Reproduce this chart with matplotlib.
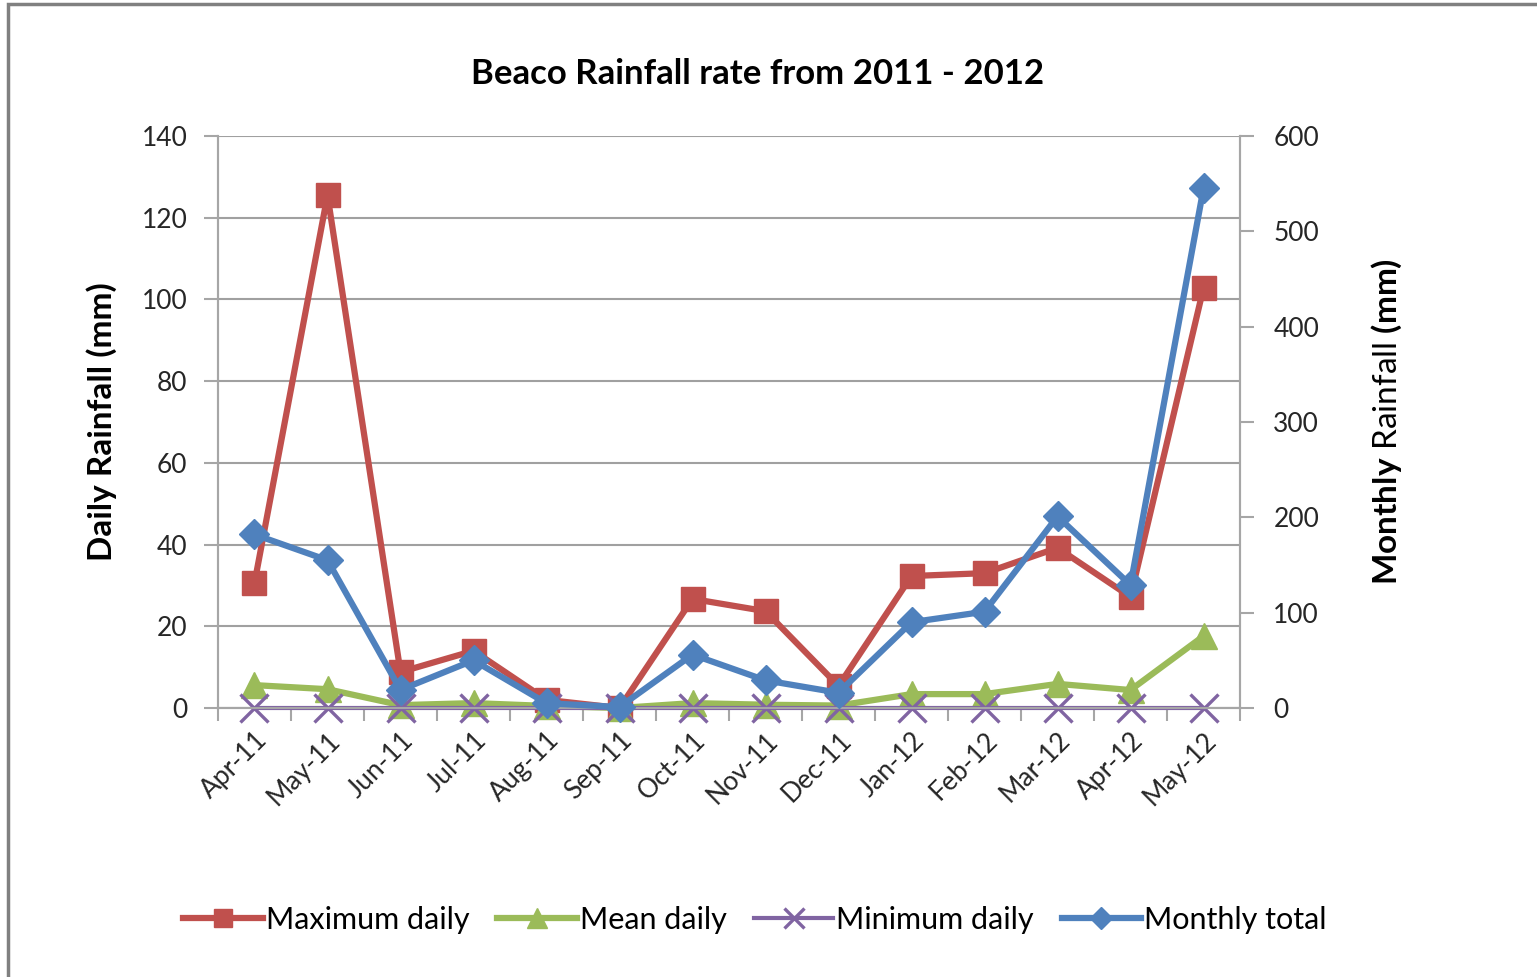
import matplotlib.pyplot as plt
import numpy as np
from matplotlib.patches import Rectangle

MONTHS = ['Apr-11', 'May-11', 'Jun-11', 'Jul-11', 'Aug-11', 'Sep-11', 'Oct-11',
          'Nov-11', 'Dec-11', 'Jan-12', 'Feb-12', 'Mar-12', 'Apr-12', 'May-12']

MAX_DAILY = [30.6, 125.5, 8.8, 14.0, 2.0, 0.0, 26.7, 23.7, 5.4, 32.3, 33.0, 39.2, 27.2, 102.8]
MEAN_DAILY = [5.6, 4.6, 0.7, 1.2, 0.5, 0.0, 1.2, 0.8, 0.6, 3.4, 3.4, 5.9, 4.4, 17.6]
MIN_DAILY = [0, 0, 0, 0, 0, 0, 0, 0, 0, 0, 0, 0, 0, 0]
MONTHLY_TOTAL = [182, 155, 19, 50, 5, 1, 56, 29, 16, 90, 101, 201, 129, 545]

RED = '#C0504D'
GREEN = '#9BBB59'
PURPLE = '#8064A2'
BLUE = '#4F81BD'
AXIS_GREY = '#A6A6A6'
TEXT = '#262626'

plt.rcParams['font.family'] = ['Lato', 'DejaVu Sans']
plt.rcParams['mathtext.fontset'] = 'custom'
plt.rcParams['mathtext.rm'] = 'Lato'
plt.rcParams['mathtext.bf'] = 'Lato:bold'

fig = plt.figure(figsize=(15.37, 9.77), dpi=100)
ax = fig.add_axes([218 / 1537, 1 - 708 / 977, (1240 - 218) / 1537, (708 - 136) / 977])
ax2 = ax.twinx()

x = np.arange(len(MONTHS))

ax.plot(x, MAX_DAILY, color=RED, lw=4.5, marker='s', ms=17, label='Maximum daily',
        clip_on=False, zorder=3)
ax.plot(x, MEAN_DAILY, color=GREEN, lw=4.5, marker='^', ms=19, label='Mean daily',
        clip_on=False, zorder=3)
ax.plot(x, MIN_DAILY, color=PURPLE, lw=3.0, marker='x', ms=20, mew=2.4,
        label='Minimum daily', clip_on=False, zorder=4)
ax2.plot(x, MONTHLY_TOTAL, color=BLUE, lw=4.5, marker='D', ms=15, label='Monthly total',
         clip_on=False, zorder=3)

ax.set_xlim(-0.5, len(MONTHS) - 0.5)
ax.set_ylim(0, 140)
ax.set_yticks(np.arange(0, 141, 20))
ax2.set_ylim(0, 600)
ax2.set_yticks(np.arange(0, 601, 100))

ax.set_xticks(x)
ax.set_xticklabels(MONTHS, rotation=45, ha='right', rotation_mode='anchor',
                   fontsize=19, color=TEXT)
ax.set_xticks(np.arange(-0.5, len(MONTHS), 1), minor=True)
ax.tick_params(axis='x', which='major', length=0, pad=14)
ax.tick_params(axis='x', which='minor', length=9, color=AXIS_GREY, width=1.5,
               direction='out')
ax.tick_params(axis='y', labelsize=19, labelcolor=TEXT, length=10, color=AXIS_GREY,
               width=1.5, pad=12)
ax2.tick_params(axis='y', labelsize=19, labelcolor=TEXT, length=10, color=AXIS_GREY,
                width=1.5, pad=14)

ax.grid(axis='y', color='#A0A0A0', lw=1.5)
ax.set_axisbelow(True)

for a in (ax, ax2):
    a.spines['top'].set_visible(False)
    for side in ('left', 'right', 'bottom'):
        a.spines[side].set_color(AXIS_GREY)
        a.spines[side].set_linewidth(1.5)

ax.set_ylabel('Daily Rainfall (mm)', fontsize=24, fontweight='bold', color='black',
              labelpad=18)
ax2.set_ylabel(r'$\mathbf{Monthly}$ Rainfall $\mathbf{(mm)}$', fontsize=24, color='black',
               labelpad=36)

fig.suptitle('Beaco Rainfall rate from 2011 - 2012', x=758 / 1537, y=1 - 74 / 977,
             va='center', fontsize=25, fontweight='bold', color='black')

h1, l1 = ax.get_legend_handles_labels()
h2, l2 = ax2.get_legend_handles_labels()
fig.legend(h1 + h2, l1 + l2, loc='center', bbox_to_anchor=(755 / 1537, 1 - 920 / 977),
           ncol=4, frameon=False, fontsize=22, handlelength=2.6, handletextpad=0.1,
           columnspacing=0.9, markerscale=0.75)

fig.patches.append(Rectangle((8 / 1537, -0.1), 1.2, 1 - 4 / 977 + 0.1, transform=fig.transFigure,
                             fill=False, edgecolor='#808080', lw=2.5, zorder=0))

fig.savefig('out.png', dpi=100)
